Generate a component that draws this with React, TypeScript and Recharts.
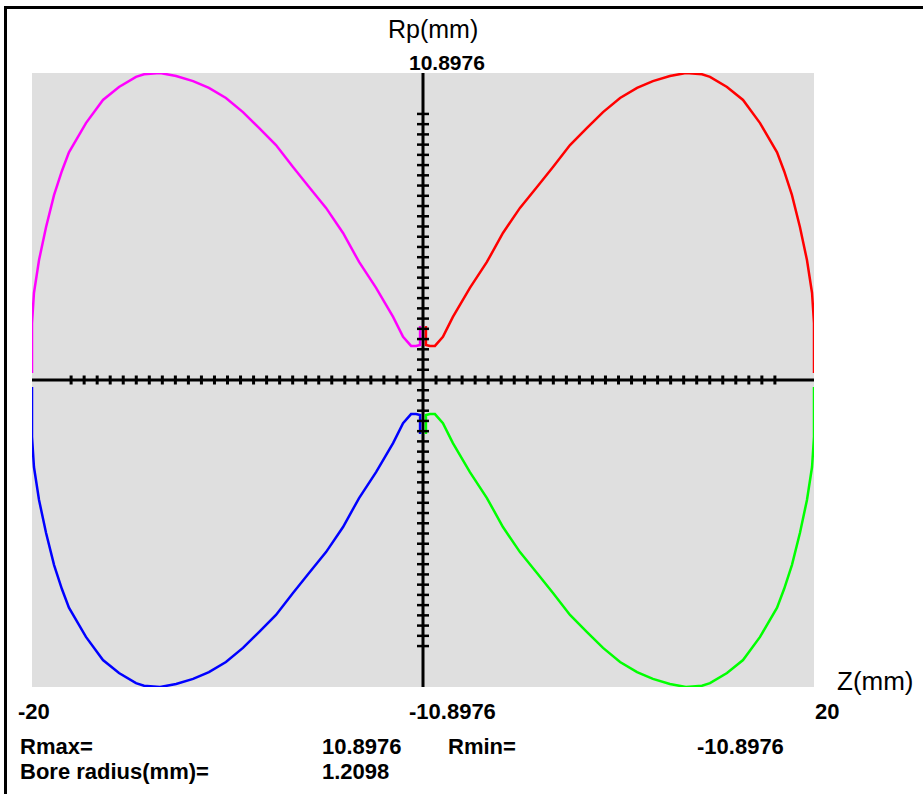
import {
  ComposedChart,
  Line,
  ReferenceArea,
  ReferenceLine,
  Scatter,
  XAxis,
  YAxis,
} from "recharts";

// one lobe (upper right, red); the other three are its mirror images
const lobeZ = [
  0.15, 0.15, 0.36, 0.61, 1.02, 1.53, 2.4, 3.27, 4.09, 4.96, 5.83, 6.65, 7.52,
  8.39, 9.21, 10.08, 10.95, 11.76, 12.63, 13.45, 14.27, 14.68, 15.55, 16.37,
  17.24, 18.11, 18.47, 18.87, 19.28, 19.64, 19.9, 20.0, 20.0,
];
const lobeR = [
  1.92, 1.24, 1.21, 1.21, 1.53, 2.24, 3.27, 4.19, 5.22, 6.11, 6.85, 7.56, 8.34,
  8.95, 9.51, 10.01, 10.37, 10.61, 10.79, 10.9, 10.85, 10.76, 10.4, 9.94, 9.12,
  8.08, 7.42, 6.57, 5.43, 4.26, 3.09, 2.02, 0.25,
];

const zMin = -20;
const zMax = 20;
const rMax = 10.8976;
const rMin = -10.8976;
const boreRadius = 1.2098;

// axis tick marks (no labels): 27 each side on Z, 26 each side on Rp
const zTickStep = 2 / 3;
const zTickCount = 27;
const rTickStep = rMax / 30;
const rTickCount = 26;

const zTicks = Array.from({ length: zTickCount * 2 }, (_, i) =>
  i < zTickCount ? -(i + 1) * zTickStep : (i - zTickCount + 1) * zTickStep
).map((z) => ({ z, r: 0 }));
const rTicks = Array.from({ length: rTickCount * 2 }, (_, i) =>
  i < rTickCount ? -(i + 1) * rTickStep : (i - rTickCount + 1) * rTickStep
).map((r) => ({ z: 0, r }));

const red = lobeZ.map((z, i) => ({ z, r: lobeR[i] }));
const magenta = lobeZ.map((z, i) => ({ z: -z, r: lobeR[i] }));
const green = lobeZ.map((z, i) => ({ z, r: -lobeR[i] }));
const blue = lobeZ.map((z, i) => ({ z: -z, r: -lobeR[i] }));

const font = "'Liberation Sans', Arial, sans-serif";

const VTick = (p: any) => (
  <rect x={p.cx - 1.5} y={p.cy - 4.5} width={3} height={9} fill="#000" />
);
const HTick = (p: any) => (
  <rect x={p.cx - 6} y={p.cy - 1.25} width={12} height={2.5} fill="#000" />
);

export default function App() {
  return (
    <div
      style={{
        position: "absolute",
        left: 0,
        top: 0,
        width: 923,
        height: 794,
        background: "#fff",
        overflow: "hidden",
      }}
    >
      <div
        style={{
          position: "absolute",
          left: 4,
          top: 6,
          width: 940,
          height: 820,
          borderTop: "3px solid #000",
          borderLeft: "3px solid #000",
        }}
      />
      <div style={{ position: "absolute", left: 0, top: 0 }}>
        <ComposedChart
          width={923}
          height={794}
          margin={{ top: 73, right: 109, bottom: 107, left: 32 }}
        >
          <XAxis
            type="number"
            dataKey="z"
            domain={[zMin, zMax]}
            allowDataOverflow
            hide
          />
          <YAxis
            type="number"
            dataKey="r"
            domain={[rMin, rMax]}
            allowDataOverflow
            hide
          />
          <ReferenceArea
            x1={zMin}
            x2={zMax}
            y1={rMin}
            y2={rMax}
            fill="#dfdfdf"
            fillOpacity={1}
            stroke="none"
          />
          <ReferenceLine y={0} stroke="#000" strokeWidth={3} />
          <ReferenceLine x={0} stroke="#000" strokeWidth={3} />
          <Scatter
            data={zTicks}
            dataKey="r"
            shape={VTick}
            isAnimationActive={false}
          />
          <Scatter
            data={rTicks}
            dataKey="r"
            shape={HTick}
            isAnimationActive={false}
          />
          <Line data={magenta} dataKey="r" stroke="#ff00ff" strokeWidth={2.5} dot={false} activeDot={false} isAnimationActive={false} />
          <Line data={red} dataKey="r" stroke="#ff0000" strokeWidth={2.5} dot={false} activeDot={false} isAnimationActive={false} />
          <Line data={blue} dataKey="r" stroke="#0000ff" strokeWidth={2.5} dot={false} activeDot={false} isAnimationActive={false} />
          <Line data={green} dataKey="r" stroke="#00ff00" strokeWidth={2.5} dot={false} activeDot={false} isAnimationActive={false} />
        </ComposedChart>
      </div>
      <svg
        width={923}
        height={794}
        style={{ position: "absolute", left: 0, top: 0, fontFamily: font }}
      >
        <text x={388} y={38} fontSize={25}>Rp(mm)</text>
        <text x={409} y={70} fontSize={21} fontWeight="bold">{rMax}</text>
        <text x={837} y={690} fontSize={26}>Z(mm)</text>
        <text x={18} y={719} fontSize={22} fontWeight="bold">{zMin}</text>
        <text x={409} y={719} fontSize={22} fontWeight="bold">{rMin}</text>
        <text x={815} y={719} fontSize={22} fontWeight="bold">{zMax}</text>
        <text x={20} y={754} fontSize={22} fontWeight="bold">Rmax=</text>
        <text x={322} y={754} fontSize={22} fontWeight="bold">{rMax}</text>
        <text x={448} y={754} fontSize={22} fontWeight="bold">Rmin=</text>
        <text x={697} y={754} fontSize={22} fontWeight="bold">{rMin}</text>
        <text x={20} y={779} fontSize={22} fontWeight="bold">Bore radius(mm)=</text>
        <text x={322} y={779} fontSize={22} fontWeight="bold">{boreRadius}</text>
      </svg>
    </div>
  );
}
